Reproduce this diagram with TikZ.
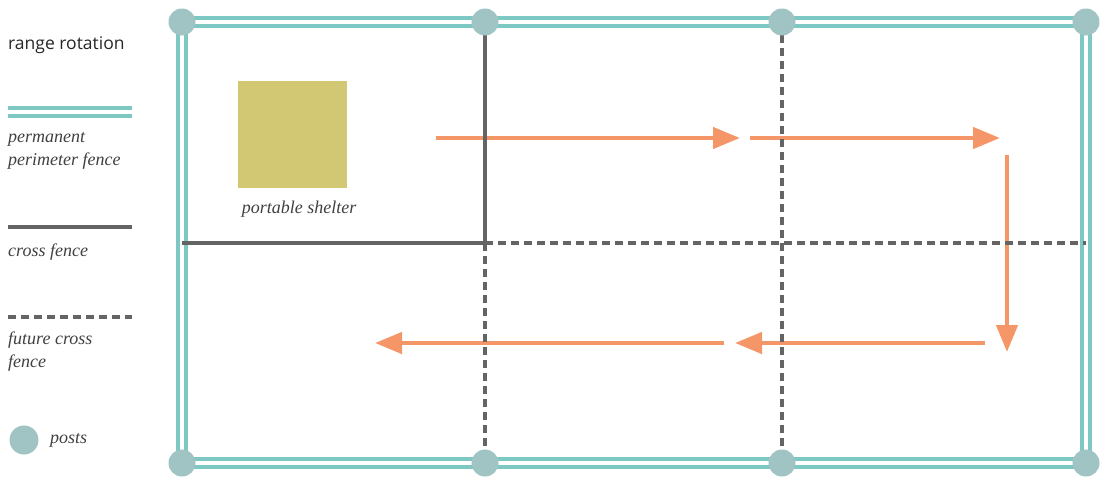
\documentclass[tikz,border=0pt]{standalone}
\usepackage{fontspec}
\setmainfont{Liberation Serif}
\newfontfamily\titlesans{Open Sans}
\usetikzlibrary{arrows.meta}
\definecolor{fenceteal}{RGB}{125,200,195}
\definecolor{postgrey}{RGB}{160,195,195}
\definecolor{fencegrey}{RGB}{100,100,100}
\definecolor{moveorange}{RGB}{245,150,105}
\definecolor{shelterolive}{RGB}{210,200,115}
\tikzset{
  perim/.style={draw=fenceteal, line width=3.8pt, double=white, double distance=4.5pt},
  cross/.style={draw=fencegrey, line width=3.4pt},
  future/.style={draw=fencegrey, line width=3.4pt, dash pattern=on 8pt off 5pt},
  post/.style={circle, fill=postgrey, minimum size=27pt, inner sep=0pt},
  move/.style={draw=moveorange, line width=4.5pt, -{Triangle[length=27pt, width=21pt]}},
  legtext/.style={anchor=west, inner sep=0pt, font=\fontsize{18}{23}\selectfont\itshape, text=black!75, align=left}
}
\begin{document}
\begin{tikzpicture}[x=1pt, y=-1pt]
\useasboundingbox (0,0) rectangle (1109,479);
% posts along the top and bottom of the paddock
\foreach \i/\x in {1/182, 2/485, 3/782, 4/1086} {
  \coordinate (t\i) at (\x,22);
  \coordinate (b\i) at (\x,463);
}
\coordinate (m1) at (182,243);
\coordinate (m2) at (485,243);
\coordinate (m4) at (1086,243);
% permanent perimeter fence
\draw[perim] (t1) -- (t4) -- (b4) -- (b1) -- cycle;
% portable shelter
\node[fill=shelterolive, minimum width=109pt, minimum height=107pt, inner sep=0pt] (shelter) at (292.5,134.5) {};
\node[legtext, anchor=center] (shelterlab) at (299,209) {portable shelter};
% rotation of the herd
\coordinate (r1s) at (436,138);  \coordinate (r1e) at (740,138);
\coordinate (r2s) at (750,138);  \coordinate (r2e) at (1000,138);
\coordinate (r3s) at (1007,155); \coordinate (r3e) at (1007,352);
\coordinate (r4s) at (985,343);  \coordinate (r4e) at (735,343);
\coordinate (r5s) at (724,343);  \coordinate (r5e) at (375,343);
\foreach \a in {1,...,5} {
  \draw[move] (r\a s) -- (r\a e);
}
% cross fences, built and future
\draw[cross] (t2) -- (m2);
\draw[cross] (m1) -- (m2);
\draw[future] (m2) -- (b2);
\draw[future] (m2) -- (m4);
\draw[future] (t3) -- (b3);
% posts on top
\foreach \c in {t1,t2,t3,t4,b1,b2,b3,b4} {
  \node[post] (p\c) at (\c) {};
}
% legend
\node[anchor=west, inner sep=0pt, font=\titlesans\fontsize{17.5}{20}\selectfont, text=black!85] (legtitle) at (8,45) {range rotation};
\draw[perim] (8,112) -- (132,112);
\node[legtext] (legperim) at (8,151) {permanent\\perimeter fence};
\draw[cross] (8,227) -- (132,227);
\node[legtext] (legcross) at (8,252) {cross fence};
\draw[future] (8,317) -- (132,317);
\node[legtext] (legfuture) at (8,352) {future cross\\fence};
\node[post, minimum size=29pt] (legpost) at (24,440) {};
\node[legtext] (legpostlab) at (50,440) {posts};
\end{tikzpicture}
\end{document}
